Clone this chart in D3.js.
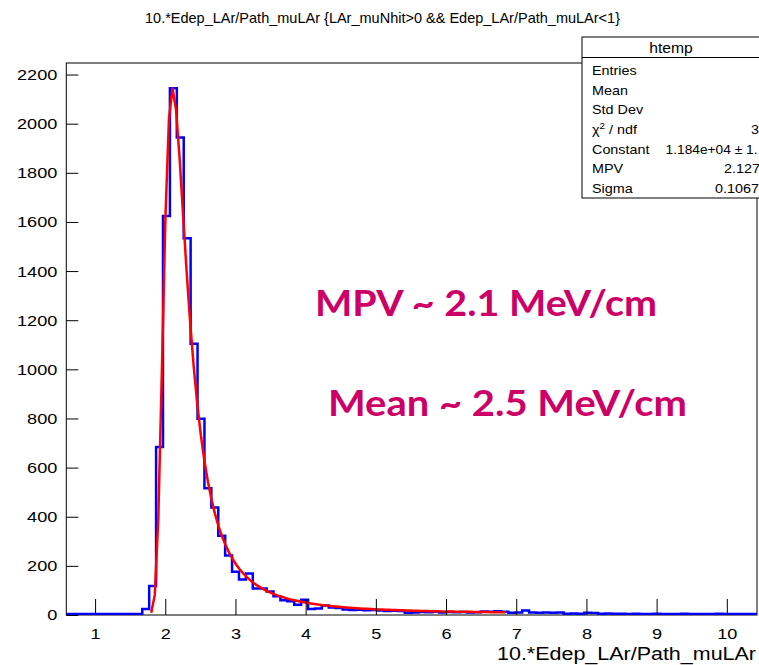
<!DOCTYPE html>
<html>
<head>
<meta charset="utf-8">
<script src="https://cdn.jsdelivr.net/npm/d3@7"></script>
<style>
  body { margin: 0; background: #fff; }
  svg { display: block; }
</style>
</head>
<body>
<svg id="chart" width="759" height="665"></svg>
<script>
// ---- histogram: 100 equal bins between binLow and binHigh ----
const binLow = 0.59;
const binHigh = 10.43;
const binCounts = [
  0, 0, 0, 0, 0, 0, 0, 0, 0, 0,
  0, 20, 114, 680, 1620, 2140, 1940, 1530, 1100, 795,
  512, 434, 319, 238, 172, 140, 165, 104, 104, 92,
  72, 56, 52, 38, 58, 20, 22, 35, 26, 24,
  18, 16, 17, 15, 16, 14, 12, 13, 12, 5,
  6, 8, 7, 9, 6, 8, 7, 8, 6, 7,
  10, 9, 11, 9, 5, 6, 14, 6, 5, 6,
  5, 6, 1, 2, 1, 5, 4, 1, 2, 1,
  1, 0, 1, 0, 0, 1, 0, 0, 0, 1,
  0, 0, 0, 0, 1, 0, 0, 0, 0, 0
];

// ---- Landau fit (parameters as printed in the stats box) ----
const fitConstant = 1.184e4;
const fitMPV = 2.127;
const fitSigma = 0.1067;
const fitRange = [1.8, 6.85];
const fitPoints = 100;

// ---- axes ----
const xTickValues = [1, 2, 3, 4, 5, 6, 7, 8, 9, 10];
const xMinorTickValues = d3.range(3, 53).map(i => +(i * 0.2).toFixed(1)).filter(v => v % 1 !== 0);
const yTickValues = [0, 200, 400, 600, 800, 1000, 1200, 1400, 1600, 1800, 2000, 2200];
const yMinorTickValues = d3.range(0, 57).map(i => i * 40).filter(v => v % 200 !== 0);

// ---- text ----
const titleText = "10.*Edep_LAr/Path_muLAr {LAr_muNhit>0 && Edep_LAr/Path_muLAr<1}";
const xAxisTitle = "10.*Edep_LAr/Path_muLAr";
const statsName = "htemp";
const statsLabels = ["Entries", "Mean", "Std Dev", "χ2 / ndf", "Constant", "MPV", "Sigma"];
const statsValues = ["", "", "", "3", "1.184e+04 ± 1.", "2.127", "0.1067"];
const noteLines = ["MPV ~ 2.1 MeV/cm", "Mean ~ 2.5 MeV/cm"];

// CERNLIB DENLAN: Landau density (unnormalised in sigma, as TMath::Landau)
function landauDensity(v) {
  const p1 = [0.4259894875, -0.1249762550, 0.03984243700, -0.006298287635, 0.001511162253];
  const q1 = [1.0, -0.3388260629, 0.09594393323, -0.01608042283, 0.003778942063];
  const p2 = [0.1788541609, 0.1173957403, 0.01488850518, -0.001394989411, 0.0001283617211];
  const q2 = [1.0, 0.7428795082, 0.3153932961, 0.06694219548, 0.008790609714];
  const p3 = [0.1788544503, 0.09359161662, 0.006325387654, 0.00006611667319, -0.000002031049101];
  const q3 = [1.0, 0.6097809921, 0.2560616665, 0.04746722384, 0.006957301675];
  const p4 = [0.9874054407, 118.6723273, 849.2794360, -743.7792444, 427.0262186];
  const q4 = [1.0, 106.8615961, 337.6496214, 2016.712389, 1597.063511];
  const p5 = [1.003675074, 167.5702434, 4789.711289, 21217.86767, -22324.94910];
  const q5 = [1.0, 156.9424537, 3745.310488, 9834.698876, 66924.28357];
  const p6 = [1.000827619, 664.9143136, 62972.92665, 475554.6998, -5743609.109];
  const q6 = [1.0, 651.4101098, 56974.73333, 165917.4725, -2815759.939];
  const a1 = [0.04166666667, -0.01996527778, 0.02709538966];
  const a2 = [-1.845568670, -4.284640743];
  const poly = (c, t) => c[0] + (c[1] + (c[2] + (c[3] + c[4] * t) * t) * t) * t;
  let u;
  if (v < -5.5) {
    u = Math.exp(v + 1.0);
    if (u < 1e-10) return 0;
    return 0.3989422803 * (Math.exp(-1 / u) / Math.sqrt(u)) * (1 + (a1[0] + (a1[1] + a1[2] * u) * u) * u);
  } else if (v < -1) {
    u = Math.exp(-v - 1);
    return Math.exp(-u) * Math.sqrt(u) * poly(p1, v) / poly(q1, v);
  } else if (v < 1) {
    return poly(p2, v) / poly(q2, v);
  } else if (v < 5) {
    return poly(p3, v) / poly(q3, v);
  } else if (v < 12) {
    u = 1 / v; return u * u * poly(p4, u) / poly(q4, u);
  } else if (v < 50) {
    u = 1 / v; return u * u * poly(p5, u) / poly(q5, u);
  } else if (v < 300) {
    u = 1 / v; return u * u * poly(p6, u) / poly(q6, u);
  }
  u = 1 / (v - v * Math.log(v) / (v + 1));
  return u * u * (1 + (a2[0] + a2[1] * u) * u);
}

// ---- layout ----
const svg = d3.select("#chart");
const frame = { left: 66.3, right: 757, top: 63, bottom: 615 };
const rootFont = "'Liberation Sans', Arial, Helvetica, sans-serif";
const textStretch = 1.17;

const x = d3.scaleLinear().domain([binLow, binHigh]).range([frame.left, frame.right]);
const y = d3.scaleLinear().domain([0, 1.05 * d3.max(binCounts)]).range([frame.bottom, frame.top]);

// ROOT text is drawn slightly wider than the system sans-serif
function stretch(sel, sx) {
  sel.each(function () {
    const t = d3.select(this);
    const x0 = +t.attr("x") || 0, y0 = +t.attr("y") || 0;
    t.attr("x", 0).attr("y", 0).attr("transform", `translate(${x0},${y0}) scale(${sx},1)`);
  });
}

svg.append("rect").attr("width", 759).attr("height", 665).attr("fill", "#fff");

svg.append("defs").append("clipPath").attr("id", "plotClip")
  .append("rect")
  .attr("x", frame.left).attr("y", frame.top - 2)
  .attr("width", frame.right - frame.left).attr("height", frame.bottom - frame.top + 2);

// frame
svg.append("rect")
  .attr("x", frame.left).attr("y", frame.top)
  .attr("width", frame.right - frame.left).attr("height", frame.bottom - frame.top)
  .attr("fill", "none").attr("stroke", "#000").attr("stroke-width", 1);

// histogram outline
const binWidth = (binHigh - binLow) / binCounts.length;
const steps = binCounts.map((c, i) => [binLow + i * binWidth, c]);
steps.push([binHigh, binCounts[binCounts.length - 1]]);
svg.append("path")
  .attr("clip-path", "url(#plotClip)")
  .attr("d", d3.line().x(d => x(d[0])).y(d => y(d[1]) - 1).curve(d3.curveStepAfter)(steps))
  .attr("fill", "none").attr("stroke", "#0000ff").attr("stroke-width", 2.5);

// fit curve
const fitXs = d3.range(fitPoints + 1).map(i => fitRange[0] + (fitRange[1] - fitRange[0]) * i / fitPoints);
svg.append("path")
  .attr("clip-path", "url(#plotClip)")
  .attr("d", d3.line().x(d => x(d)).y(d => y(fitConstant * landauDensity((d - fitMPV) / fitSigma)) - 1)(fitXs))
  .attr("fill", "none").attr("stroke", "#ff0000").attr("stroke-width", 2.5)
  .attr("stroke-linejoin", "round");

// y axis: major and minor ticks pointing into the frame
const yAxisG = svg.append("g").attr("transform", `translate(${frame.left},0)`);
yAxisG.call(d3.axisLeft(y).tickValues(yMinorTickValues).tickSize(-6).tickSizeOuter(0).tickFormat(""));
yAxisG.call(d3.axisLeft(y).tickValues(yTickValues).tickSize(-12).tickSizeOuter(0).tickPadding(9).tickFormat(d3.format("d")));
yAxisG.selectAll(".domain").remove();
yAxisG.selectAll("line").attr("stroke", "#000");
yAxisG.selectAll("text").attr("font-family", rootFont).attr("font-size", 15.5).attr("fill", "#000");
stretch(yAxisG.selectAll("text"), textStretch);

// x axis
const xAxisG = svg.append("g").attr("transform", `translate(0,${frame.bottom})`);
xAxisG.call(d3.axisBottom(x).tickValues(xMinorTickValues).tickSize(-8).tickSizeOuter(0).tickFormat(""));
xAxisG.call(d3.axisBottom(x).tickValues(xTickValues).tickSize(-16).tickSizeOuter(0).tickPadding(13).tickFormat(d3.format("d")));
xAxisG.selectAll(".domain").remove();
xAxisG.selectAll("line").attr("stroke", "#000");
xAxisG.selectAll("text").attr("font-family", rootFont).attr("font-size", 15.5).attr("fill", "#000");
stretch(xAxisG.selectAll("text"), textStretch);

// title
svg.append("text")
  .attr("x", 382.5).attr("y", 23)
  .attr("text-anchor", "middle")
  .attr("font-family", rootFont).attr("font-size", 14.5)
  .attr("textLength", 475).attr("lengthAdjust", "spacingAndGlyphs")
  .text(titleText);

// x-axis title
svg.append("text")
  .attr("x", 756).attr("y", 660)
  .attr("text-anchor", "end")
  .attr("font-family", rootFont).attr("font-size", 17.5)
  .attr("textLength", 259).attr("lengthAdjust", "spacingAndGlyphs")
  .text(xAxisTitle);

// stats box
const stats = svg.append("g");
stats.append("rect")
  .attr("x", 582).attr("y", 37).attr("width", 200).attr("height", 161)
  .attr("fill", "#fff").attr("stroke", "#000").attr("stroke-width", 1);
stats.append("line")
  .attr("x1", 582).attr("x2", 782).attr("y1", 57.5).attr("y2", 57.5)
  .attr("stroke", "#000").attr("stroke-width", 1);
const header = stats.append("text")
  .attr("x", 671).attr("y", 53)
  .attr("text-anchor", "middle")
  .attr("font-family", rootFont).attr("font-size", 14)
  .text(statsName);
stretch(header, 1.12);

const statsRowY = i => 75 + i * 19.65;
// value positions: [x, anchor]
const statsValueAt = [[0, "start"], [0, "start"], [0, "start"], [751, "start"], [757.5, "end"], [724, "start"], [715, "start"]];
statsLabels.forEach((label, i) => {
  const t = stats.append("text")
    .attr("x", 592).attr("y", statsRowY(i))
    .attr("font-family", rootFont).attr("font-size", 12.5);
  if (label.startsWith("χ2")) {
    t.append("tspan").text("χ");
    t.append("tspan").attr("font-size", 8.5).attr("dy", -5).text("2");
    t.append("tspan").attr("dy", 5).text(label.slice(2));
  } else {
    t.text(label);
  }
  stretch(t, 1.15);
  if (statsValues[i]) {
    const v = stats.append("text")
      .attr("x", statsValueAt[i][0]).attr("y", statsRowY(i))
      .attr("text-anchor", statsValueAt[i][1])
      .attr("font-family", rootFont).attr("font-size", 12.5)
      .text(statsValues[i]);
    stretch(v, statsValueAt[i][1] === "end" ? 1.1 : 1.15);
  }
});

// annotations
const noteLayout = [
  { x: 315, y: 316, len: 342 },
  { x: 328, y: 416, len: 359 }
];
noteLines.forEach((line, i) => {
  svg.append("text")
    .attr("x", noteLayout[i].x).attr("y", noteLayout[i].y)
    .attr("font-family", "Lato, 'Open Sans', sans-serif")
    .attr("font-weight", 700).attr("font-size", 37)
    .attr("fill", "#cc0066")
    .attr("textLength", noteLayout[i].len).attr("lengthAdjust", "spacingAndGlyphs")
    .text(line);
});
</script>
</body>
</html>
